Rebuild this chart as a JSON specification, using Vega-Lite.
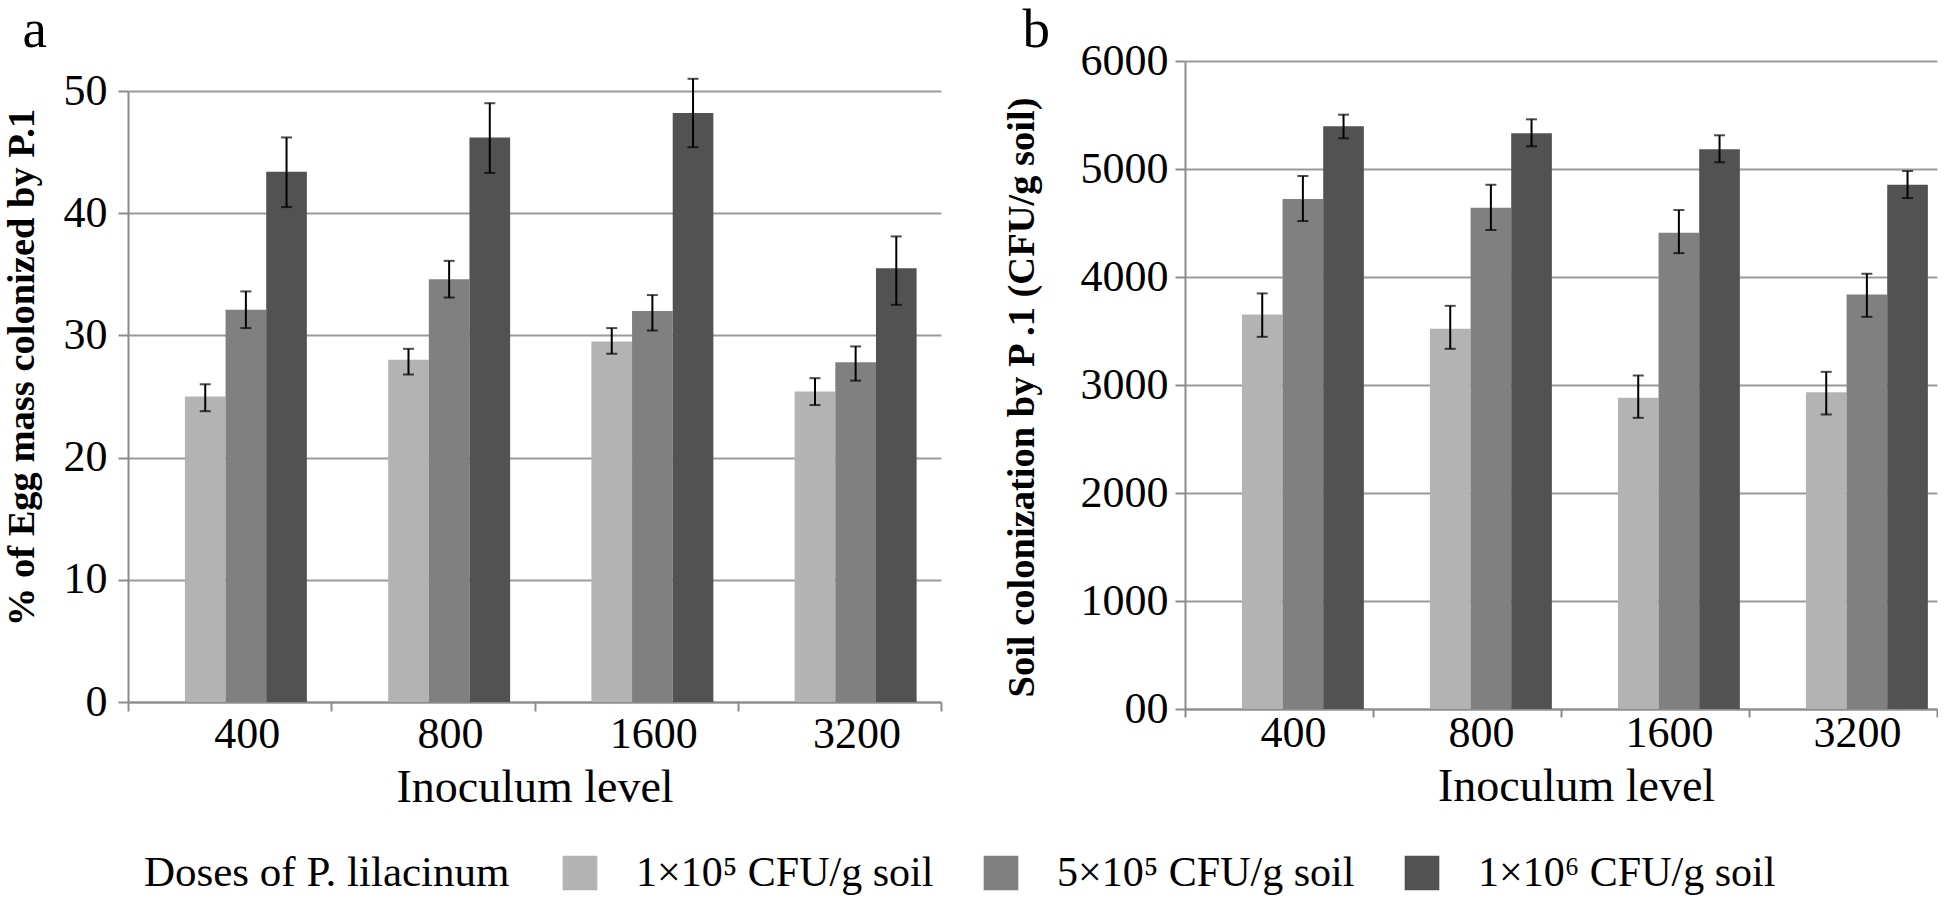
{
  "$schema": "https://vega.github.io/schema/vega-lite/v6.json",
  "background": "white",
  "padding": {"left": 2, "top": 2, "right": 0, "bottom": 0},
  "config": {
    "font": "Liberation Serif",
    "view": {"stroke": null},
    "axis": {
      "labelFont": "Liberation Serif",
      "titleFont": "Liberation Serif",
      "labelColor": "black",
      "titleColor": "black",
      "domainColor": "#8c8c8c",
      "domainWidth": 2,
      "tickColor": "#8c8c8c",
      "tickWidth": 2,
      "gridColor": "#9a9a9a",
      "gridWidth": 2,
      "labelFontSize": 44,
      "titleFontSize": 46,
      "titleFontWeight": "normal"
    },
    "legend": {
      "labelFont": "Liberation Serif",
      "titleFont": "Liberation Serif"
    }
  },
  "datasets": {
    "eggs": [
      {"level": "400", "dose": "1×10⁵ CFU/g soil", "value": 25.0, "lo": 23.8, "hi": 26.0},
      {"level": "400", "dose": "5×10⁵ CFU/g soil", "value": 32.1, "lo": 30.6, "hi": 33.6},
      {"level": "400", "dose": "1×10⁶ CFU/g soil", "value": 43.4, "lo": 40.5, "hi": 46.2},
      {"level": "800", "dose": "1×10⁵ CFU/g soil", "value": 28.0, "lo": 26.8, "hi": 28.9},
      {"level": "800", "dose": "5×10⁵ CFU/g soil", "value": 34.6, "lo": 33.1, "hi": 36.1},
      {"level": "800", "dose": "1×10⁶ CFU/g soil", "value": 46.2, "lo": 43.3, "hi": 49.0},
      {"level": "1600", "dose": "1×10⁵ CFU/g soil", "value": 29.5, "lo": 28.5, "hi": 30.6},
      {"level": "1600", "dose": "5×10⁵ CFU/g soil", "value": 32.0, "lo": 30.4, "hi": 33.3},
      {"level": "1600", "dose": "1×10⁶ CFU/g soil", "value": 48.2, "lo": 45.4, "hi": 51.0},
      {"level": "3200", "dose": "1×10⁵ CFU/g soil", "value": 25.4, "lo": 24.3, "hi": 26.5},
      {"level": "3200", "dose": "5×10⁵ CFU/g soil", "value": 27.8, "lo": 26.3, "hi": 29.1},
      {"level": "3200", "dose": "1×10⁶ CFU/g soil", "value": 35.5, "lo": 32.5, "hi": 38.1}
    ],
    "soil": [
      {"level": "400", "dose": "1×10⁵ CFU/g soil", "value": 3653, "lo": 3446, "hi": 3848},
      {"level": "400", "dose": "5×10⁵ CFU/g soil", "value": 4722, "lo": 4518, "hi": 4935},
      {"level": "400", "dose": "1×10⁶ CFU/g soil", "value": 5395, "lo": 5284, "hi": 5503},
      {"level": "800", "dose": "1×10⁵ CFU/g soil", "value": 3520, "lo": 3335, "hi": 3733},
      {"level": "800", "dose": "5×10⁵ CFU/g soil", "value": 4641, "lo": 4435, "hi": 4854},
      {"level": "800", "dose": "1×10⁶ CFU/g soil", "value": 5330, "lo": 5210, "hi": 5460},
      {"level": "1600", "dose": "1×10⁵ CFU/g soil", "value": 2881, "lo": 2696, "hi": 3088},
      {"level": "1600", "dose": "5×10⁵ CFU/g soil", "value": 4409, "lo": 4221, "hi": 4620},
      {"level": "1600", "dose": "1×10⁶ CFU/g soil", "value": 5182, "lo": 5062, "hi": 5312},
      {"level": "3200", "dose": "1×10⁵ CFU/g soil", "value": 2934, "lo": 2727, "hi": 3122},
      {"level": "3200", "dose": "5×10⁵ CFU/g soil", "value": 3839, "lo": 3631, "hi": 4030},
      {"level": "3200", "dose": "1×10⁶ CFU/g soil", "value": 4854, "lo": 4731, "hi": 4981}
    ]
  },
  "spacing": 60,
  "hconcat": [
    {
      "width": 813,
      "height": 641,
      "data": {"name": "eggs"},
      "resolve": {"axis": {"x": "independent"}},
      "encoding": {
        "xOffset": {"field": "dose", "type": "nominal", "sort": ["1×10⁵ CFU/g soil", "5×10⁵ CFU/g soil", "1×10⁶ CFU/g soil"],
          "scale": {"paddingInner": 0, "paddingOuter": 1.26, "align": 0.7}}
      },
      "layer": [
        {
          "mark": {"type": "bar"},
          "encoding": {
            "x": {"field": "level", "type": "nominal", "sort": ["400", "800", "1600", "3200"],
              "scale": {"paddingInner": 0, "paddingOuter": 0},
              "axis": {"orient": "bottom", "title": "Inoculum level", "labelAngle": 0, "tickBand": "extent", "labelOffset": 17, "tickSize": 9, "labelPadding": 1, "titlePadding": 9}},
            "y": {"field": "value", "type": "quantitative", "title": "% of Egg mass colonized by P.1",
              "scale": {"domain": [0, 50], "nice": false, "range": [641, 30]},
              "axis": {"values": [0, 10, 20, 30, 40, 50], "grid": true, "tickSize": 10, "labelPadding": 11, "titlePadding": 22, "titleFontWeight": "bold", "titleFontSize": 38.5, "titleY": 306}},
            "color": {"field": "dose", "type": "nominal", "sort": ["1×10⁵ CFU/g soil", "5×10⁵ CFU/g soil", "1×10⁶ CFU/g soil"],
              "scale": {"domain": ["1×10⁵ CFU/g soil", "5×10⁵ CFU/g soil", "1×10⁶ CFU/g soil"], "range": ["#b3b3b3", "#808080", "#525252"]},
              "legend": {"title": "Doses of P. lilacinum", "orient": "bottom", "direction": "horizontal", "titleOrient": "left", "symbolType": "square", "symbolSize": 1200, "symbolStrokeWidth": 0, "labelFontSize": 42, "titleFontSize": 43, "titleFontWeight": "normal", "labelOffset": 35, "columnPadding": 46, "titlePadding": 49, "titleLimit": 2000, "labelLimit": 2000, "padding": 16, "offset": 26}}
          }
        },
        {
          "mark": {"type": "rule", "color": "black", "strokeWidth": 2},
          "encoding": {
            "x": {"field": "level", "type": "nominal", "sort": ["400", "800", "1600", "3200"],
              "axis": {"orient": "top", "title": "a", "labels": false, "ticks": false, "domain": false, "grid": false, "titleAnchor": "start", "titleAlign": "left", "titleX": -106, "titleFontSize": 55, "titleFontWeight": "normal", "titlePadding": 3}},
            "y": {"field": "lo", "type": "quantitative", "title": "% of Egg mass colonized by P.1"},
            "y2": {"field": "hi"}
          }
        },
        {
          "mark": {"type": "tick", "color": "black", "thickness": 2, "size": 11},
          "encoding": {
            "x": {"field": "level", "type": "nominal", "sort": ["400", "800", "1600", "3200"], "axis": null},
            "y": {"field": "lo", "type": "quantitative", "title": "% of Egg mass colonized by P.1"}
          }
        },
        {
          "mark": {"type": "tick", "color": "black", "thickness": 2, "size": 11},
          "encoding": {
            "x": {"field": "level", "type": "nominal", "sort": ["400", "800", "1600", "3200"], "axis": null},
            "y": {"field": "hi", "type": "quantitative", "title": "% of Egg mass colonized by P.1"}
          }
        }
      ]
    },
    {
      "width": 752,
      "height": 648,
      "data": {"name": "soil"},
      "resolve": {"axis": {"x": "independent"}},
      "encoding": {
        "xOffset": {"field": "dose", "type": "nominal", "sort": ["1×10⁵ CFU/g soil", "5×10⁵ CFU/g soil", "1×10⁶ CFU/g soil"],
          "scale": {"paddingInner": 0, "paddingOuter": 1.26, "align": 0.7}}
      },
      "layer": [
        {
          "mark": {"type": "bar"},
          "encoding": {
            "x": {"field": "level", "type": "nominal", "sort": ["400", "800", "1600", "3200"],
              "scale": {"paddingInner": 0, "paddingOuter": 0},
              "axis": {"orient": "bottom", "title": "Inoculum level", "labelAngle": 0, "tickBand": "extent", "labelOffset": 14, "tickSize": 8, "labelPadding": -6, "titlePadding": 9, "titleX": 391}},
            "y": {"field": "value", "type": "quantitative", "title": "Soil colonization by P .1 (CFU/g soil)",
              "scale": {"domain": [0, 6000], "nice": false},
              "axis": {"values": [0, 1000, 2000, 3000, 4000, 5000, 6000], "format": "d", "labelExpr": "datum.value == 0 ? '00' : datum.label", "grid": true, "tickSize": 10, "labelPadding": 7, "titlePadding": 39, "titleFontWeight": "bold", "titleFontSize": 38.5, "titleY": 336}},
            "color": {"field": "dose", "type": "nominal", "sort": ["1×10⁵ CFU/g soil", "5×10⁵ CFU/g soil", "1×10⁶ CFU/g soil"],
              "scale": {"domain": ["1×10⁵ CFU/g soil", "5×10⁵ CFU/g soil", "1×10⁶ CFU/g soil"], "range": ["#b3b3b3", "#808080", "#525252"]},
              "legend": {"title": "Doses of P. lilacinum", "orient": "bottom", "direction": "horizontal", "titleOrient": "left", "symbolType": "square", "symbolSize": 1200, "symbolStrokeWidth": 0, "labelFontSize": 42, "titleFontSize": 43, "titleFontWeight": "normal", "labelOffset": 35, "columnPadding": 46, "titlePadding": 49, "titleLimit": 2000, "labelLimit": 2000, "padding": 16, "offset": 26}}
          }
        },
        {
          "mark": {"type": "rule", "color": "black", "strokeWidth": 2},
          "encoding": {
            "x": {"field": "level", "type": "nominal", "sort": ["400", "800", "1600", "3200"],
              "axis": {"orient": "top", "title": "b", "labels": false, "ticks": false, "domain": false, "grid": false, "titleAnchor": "start", "titleAlign": "left", "titleX": -163, "titleFontSize": 55, "titleFontWeight": "normal", "titlePadding": 3}},
            "y": {"field": "lo", "type": "quantitative", "title": "Soil colonization by P .1 (CFU/g soil)"},
            "y2": {"field": "hi"}
          }
        },
        {
          "mark": {"type": "tick", "color": "black", "thickness": 2, "size": 11},
          "encoding": {
            "x": {"field": "level", "type": "nominal", "sort": ["400", "800", "1600", "3200"], "axis": null},
            "y": {"field": "lo", "type": "quantitative", "title": "Soil colonization by P .1 (CFU/g soil)"}
          }
        },
        {
          "mark": {"type": "tick", "color": "black", "thickness": 2, "size": 11},
          "encoding": {
            "x": {"field": "level", "type": "nominal", "sort": ["400", "800", "1600", "3200"], "axis": null},
            "y": {"field": "hi", "type": "quantitative", "title": "Soil colonization by P .1 (CFU/g soil)"}
          }
        }
      ]
    }
  ]
}
